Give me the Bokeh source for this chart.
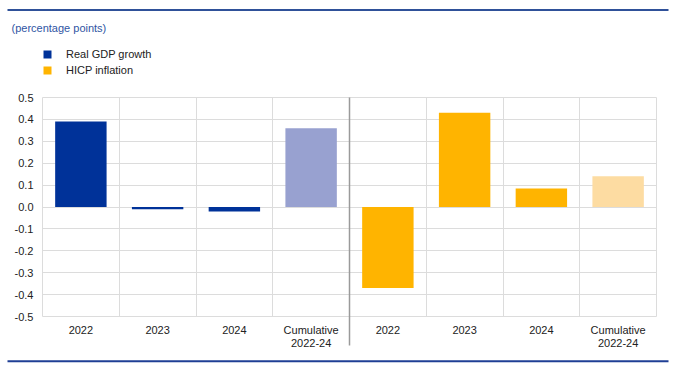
from bokeh.plotting import figure
from bokeh.models import (ColumnDataSource, Range1d, FixedTicker, Grid, Label,
                          BoxAnnotation, Legend, LegendItem, NumeralTickFormatter)
from bokeh.embed import file_html
from bokeh.resources import INLINE

# ---- data ----
categories = ["2022", "2023", "2024", "Cumulative\n2022-24"]
gdp = [0.39, -0.01, -0.02, 0.36]
hicp = [-0.37, 0.43, 0.085, 0.14]
gdp_colors = ["#003299", "#003299", "#003299", "#98a1d0"]
hicp_colors = ["#ffb400", "#ffb400", "#ffb400", "#fddca2"]
unit_label = "(percentage points)"
series_names = ["Real GDP growth", "HICP inflation"]
y_ticks = [-0.5, -0.4, -0.3, -0.2, -0.1, 0.0, 0.1, 0.2, 0.3, 0.4, 0.5]

FONT = "Liberation Sans"
W, H = 676, 370
n = len(categories)
xs_gdp = [i + 0.5 for i in range(n)]
xs_hicp = [n + i + 0.5 for i in range(n)]

# plot-area placement (pixels on the canvas)
PX_L, PX_R, PX_T, PX_B = 42.0, 656.0, 97.0, 316.0
ymin, ymax = min(y_ticks), max(y_ticks)
xu = (PX_R - PX_L) / (2 * n)
yu = (PX_B - PX_T) / (ymax - ymin)
x_range = Range1d(-PX_L / xu, 2 * n + (W - PX_R) / xu)
y_range = Range1d(ymin - (H - PX_B) / yu, ymax + PX_T / yu)

p = figure(width=W, height=H, output_backend="svg", toolbar_location=None,
           x_range=x_range, y_range=y_range,
           min_border=0, margin=0)
p.title.visible = False
p.outline_line_color = None
p.background_fill_color = "white"
p.border_fill_color = "white"

# grid (also forms the plot-area border)
p.xgrid.ticker = FixedTicker(ticks=list(range(2 * n + 1)))
p.xgrid.bounds = (0, 2 * n)
p.xgrid.cross_bounds = (ymin, ymax)
p.xgrid.grid_line_color = "#dcdcdc"
p.ygrid.ticker = FixedTicker(ticks=y_ticks)
p.ygrid.bounds = (ymin, ymax)
p.ygrid.cross_bounds = (0, 2 * n)
p.ygrid.grid_line_color = "#dcdcdc"

# separator between the two panels (extends below the plot area)
sep = Grid(dimension=0, ticker=FixedTicker(ticks=[n]),
           cross_bounds=(ymin - 29 / yu, ymax),
           grid_line_color="#9a9a9a", grid_line_width=1.5)
p.add_layout(sep)

src_gdp = ColumnDataSource(dict(x=xs_gdp, top=gdp, color=gdp_colors))
src_hicp = ColumnDataSource(dict(x=xs_hicp, top=hicp, color=hicp_colors))
r1 = p.vbar(x="x", top="top", bottom=0, width=0.67, fill_color="color",
            line_color=None, source=src_gdp)
r2 = p.vbar(x="x", top="top", bottom=0, width=0.67, fill_color="color",
            line_color=None, source=src_hicp)

# axes
p.xaxis.fixed_location = ymin
p.xaxis.bounds = (0, 2 * n)
p.xaxis.ticker = FixedTicker(ticks=xs_gdp + xs_hicp)
p.xaxis.major_label_overrides = {x: lab for x, lab in zip(xs_gdp + xs_hicp, categories + categories)}
p.xaxis.axis_line_color = None
p.xaxis.major_tick_line_color = None
p.xaxis.minor_tick_line_color = None
p.xaxis.major_tick_out = 0
p.xaxis.major_label_standoff = 7
p.xaxis.major_label_text_font = FONT
p.xaxis.major_label_text_font_size = "11px"
p.xaxis.major_label_text_color = "#222222"
p.xaxis.major_label_text_line_height = 1.1

p.yaxis.fixed_location = 0
p.yaxis.bounds = (ymin, ymax)
p.yaxis.ticker = FixedTicker(ticks=y_ticks)
p.yaxis.formatter = NumeralTickFormatter(format="0.0")
p.yaxis.axis_line_color = None
p.yaxis.major_tick_line_color = None
p.yaxis.minor_tick_line_color = None
p.yaxis.major_tick_out = 0
p.yaxis.major_label_standoff = 9
p.yaxis.major_label_text_font = FONT
p.yaxis.major_label_text_font_size = "11px"
p.yaxis.major_label_text_color = "#222222"

# decorations: rules above and below, unit label
p.add_layout(BoxAnnotation(left=7, right=668, top=8.5, bottom=10.5,
                           left_units="canvas", right_units="canvas",
                           top_units="canvas", bottom_units="canvas",
                           fill_color="#2f5199", fill_alpha=1, line_color=None))
p.add_layout(BoxAnnotation(left=7, right=668, top=359.7, bottom=361.7,
                           left_units="canvas", right_units="canvas",
                           top_units="canvas", bottom_units="canvas",
                           fill_color="#1f3f95", fill_alpha=1, line_color=None))
p.add_layout(Label(x=11, y=27, x_units="canvas", y_units="canvas", text=unit_label,
                   text_font=FONT, text_font_size="11px", text_color="#2f55a3",
                   text_baseline="middle"))

legend = Legend(items=[LegendItem(label=series_names[0], renderers=[r1], index=0),
                       LegendItem(label=series_names[1], renderers=[r2], index=0)],
                location=(PX_L, H - 78), orientation="vertical",
                glyph_width=10, glyph_height=10, label_height=16, spacing=0,
                label_standoff=14, padding=0, margin=0,
                border_line_color=None, background_fill_alpha=0,
                label_text_font=FONT, label_text_font_size="11px",
                label_text_color="#222222")
p.add_layout(legend, "center")

open("out.html", "w").write(file_html(p, INLINE))
